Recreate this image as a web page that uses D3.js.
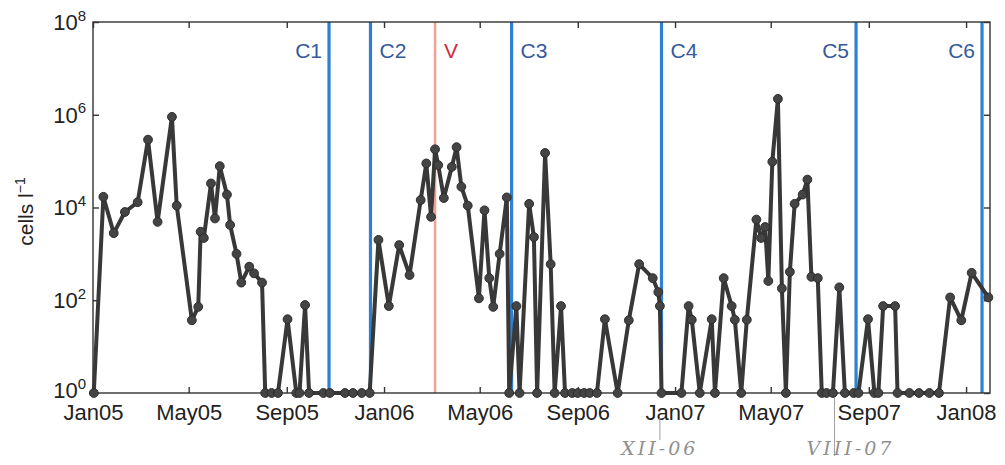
<!DOCTYPE html>
<html>
<head>
<meta charset="utf-8">
<script src="https://cdn.jsdelivr.net/npm/d3@7"></script>
<style>
  body { margin: 0; background: #fff; }
  svg { display: block; font-family: "Liberation Sans", Arial, Helvetica, sans-serif; }
</style>
</head>
<body>
<div class="container"></div>
<script>
const width = 1005,
    height = 465,
    margin = {top: 22, right: 15, bottom: 72, left: 93};

// sampling dates and cell counts (cells per litre)
const sampleDates = [
    '2005-01-02','2005-01-14','2005-01-27','2005-02-10','2005-02-26','2005-03-11','2005-03-23','2005-04-10','2005-04-16','2005-05-05',
    '2005-05-13','2005-05-16','2005-05-20','2005-05-29','2005-06-03','2005-06-09','2005-06-18','2005-06-22','2005-06-30','2005-07-06',
    '2005-07-16','2005-07-22','2005-08-01','2005-08-05','2005-08-13','2005-08-21','2005-09-02','2005-09-13','2005-09-17','2005-09-24',
    '2005-09-29','2005-10-17','2005-10-25','2005-11-13','2005-11-23','2005-12-04','2005-12-14','2005-12-25',
    '2006-01-07','2006-01-20','2006-02-02','2006-02-16','2006-02-23','2006-03-01','2006-03-06','2006-03-10','2006-03-17','2006-03-27',
    '2006-04-02','2006-04-08','2006-04-16','2006-04-30','2006-05-07','2006-05-13','2006-05-18','2006-05-26','2006-06-04','2006-06-07',
    '2006-06-16','2006-06-20','2006-07-02','2006-07-08','2006-07-12','2006-07-22','2006-07-29','2006-08-03','2006-08-11','2006-08-16',
    '2006-08-25','2006-09-01','2006-09-09','2006-09-16','2006-09-25','2006-10-05','2006-10-21','2006-11-04','2006-11-17','2006-12-04',
    '2006-12-11','2006-12-13','2006-12-15',
    '2007-01-09','2007-01-18','2007-01-22','2007-02-01','2007-02-16','2007-02-20','2007-03-03','2007-03-13','2007-03-17','2007-03-25',
    '2007-04-01','2007-04-13','2007-04-19','2007-04-24','2007-04-28','2007-05-03','2007-05-10','2007-05-15','2007-05-20','2007-05-25',
    '2007-05-31','2007-06-10','2007-06-16','2007-06-21','2007-06-29','2007-07-04','2007-07-10','2007-07-18','2007-07-26','2007-08-02',
    '2007-08-13','2007-08-19','2007-08-31','2007-09-08','2007-09-13','2007-09-19','2007-10-04','2007-10-07','2007-10-22','2007-11-03',
    '2007-11-16','2007-11-28','2007-12-12','2007-12-26',
    '2008-01-08','2008-01-29'
];

const cellCounts = [
    1, 17000, 2800, 8000, 13000, 290000, 4900, 900000, 11000, 37,
    72, 3000, 2200, 33000, 5800, 78000, 19000, 4200, 1000, 240,
    530, 380, 240, 1, 1, 1, 39, 1, 1, 79,
    1, 1, 1, 1, 1, 1, 1, 2000,
    75, 1550, 350, 14500, 89000, 6300, 180000, 82000, 16000, 75000,
    200000, 28000, 11000, 110, 8700, 300, 72, 1000, 16500, 1,
    75, 1, 12000, 2300, 1, 150000, 600, 1, 75, 1,
    1, 1, 1, 1, 1, 39, 1, 37, 600, 300,
    150, 75, 1,
    1, 75, 38, 1, 39, 1, 300, 75, 38, 1,
    38, 5500, 2200, 3800, 260, 97000, 2200000, 180, 1, 410,
    12000, 19000, 40000, 320, 300, 1, 1, 1, 190, 1,
    1, 1, 39, 1, 1, 75, 75, 1, 1, 1,
    1, 1, 115, 37,
    390, 115
];

// cruises (C) and the V event
const eventLabels = ['C1', 'C2', 'V', 'C3', 'C4', 'C5', 'C6'];
const eventDates = ['2005-10-24', '2005-12-15', '2006-03-06', '2006-06-10', '2006-12-15', '2007-08-16', '2008-01-21'];

// axis ticks
const xTickDates = ['2005-01-01','2005-05-01','2005-09-01','2006-01-01','2006-05-01','2006-09-01','2007-01-01','2007-05-01','2007-09-01','2008-01-01'];
const yTickExponents = [0, 2, 4, 6, 8];

// pencil notes on the scan
const noteLabels = ['XII-06', 'VIII-07'];
const noteDates = ['2006-12-13', '2007-07-20'];

const parse = d3.utcParse('%Y-%m-%d');
const data = sampleDates.map((d, i) => ({date: parse(d), value: cellCounts[i]}));

const svg = d3.select('.container')
    .append('svg')
    .attr('width', width)
    .attr('height', height);

const x = d3.scaleUtc()
    .domain([parse('2005-01-01'), parse('2008-01-31')])
    .range([margin.left, width - margin.right]);

const y = d3.scaleLog()
    .domain([1, 1e8])
    .range([height - margin.bottom, margin.top]);

const axisColor = '#333';

// event lines
const events = svg.append('g');
events.selectAll('line')
    .data(eventDates)
    .enter()
    .append('line')
    .attr('x1', d => x(parse(d)))
    .attr('x2', d => x(parse(d)))
    .attr('y1', y(1e8))
    .attr('y2', y(1))
    .attr('stroke', (d, i) => eventLabels[i] === 'V' ? '#f3a291' : '#2e80d2')
    .attr('stroke-width', (d, i) => eventLabels[i] === 'V' ? 2.5 : 3.2);

const labelOnLeft = ['C1', 'C5', 'C6'];
events.selectAll('text')
    .data(eventDates)
    .enter()
    .append('text')
    .attr('x', (d, i) => x(parse(d)) + (labelOnLeft.includes(eventLabels[i]) ? -7 : 9))
    .attr('y', 58)
    .attr('text-anchor', (d, i) => labelOnLeft.includes(eventLabels[i]) ? 'end' : 'start')
    .attr('font-size', 21)
    .attr('fill', (d, i) => eventLabels[i] === 'V' ? '#d4283c' : '#35589c')
    .text((d, i) => eventLabels[i]);

// frame
svg.append('rect')
    .attr('x', margin.left)
    .attr('y', margin.top)
    .attr('width', width - margin.left - margin.right)
    .attr('height', height - margin.top - margin.bottom)
    .attr('fill', 'none')
    .attr('stroke', axisColor)
    .attr('stroke-width', 1.4);

const xTicks = xTickDates.map(parse);
const yTicks = yTickExponents.map(e => Math.pow(10, e));

const xAxis = svg.append('g')
    .attr('transform', `translate(0,${y(1)})`)
    .call(d3.axisBottom(x)
        .tickValues(xTicks)
        .tickFormat(d3.utcFormat('%b%y'))
        .tickSizeInner(-6)
        .tickSizeOuter(0)
        .tickPadding(11));
xAxis.select('.domain').remove();
xAxis.selectAll('line').attr('stroke', axisColor).attr('stroke-width', 1.4);
xAxis.selectAll('text')
    .attr('font-size', 22)
    .attr('font-family', '"Liberation Sans", Arial, sans-serif')
    .attr('fill', '#222');

const xTop = svg.append('g')
    .attr('transform', `translate(0,${y(1e8)})`)
    .call(d3.axisTop(x).tickValues(xTicks).tickFormat('').tickSizeInner(-6).tickSizeOuter(0));
xTop.select('.domain').remove();
xTop.selectAll('line').attr('stroke', axisColor).attr('stroke-width', 1.4);

const yAxis = svg.append('g')
    .attr('transform', `translate(${margin.left},0)`)
    .call(d3.axisLeft(y).tickValues(yTicks).tickFormat('').tickSizeInner(-6).tickSizeOuter(0));
yAxis.select('.domain').remove();
yAxis.selectAll('line').attr('stroke', axisColor).attr('stroke-width', 1.4);

const yRight = svg.append('g')
    .attr('transform', `translate(${width - margin.right},0)`)
    .call(d3.axisRight(y).tickValues(yTicks).tickFormat('').tickSizeInner(-6).tickSizeOuter(0));
yRight.select('.domain').remove();
yRight.selectAll('line').attr('stroke', axisColor).attr('stroke-width', 1.4);

// y tick labels as 10 with superscript exponent
const yLabels = svg.append('g')
    .attr('font-size', 22)
    .attr('fill', '#222');
yLabels.selectAll('text')
    .data(yTickExponents)
    .enter()
    .append('text')
    .attr('x', margin.left - 7)
    .attr('y', d => y(Math.pow(10, d)) - (d === 0 ? 3 : 0))
    .attr('text-anchor', 'end')
    .each(function(d) {
        const t = d3.select(this);
        t.append('tspan').attr('dy', '0.36em').text('10');
        t.append('tspan').attr('dy', '-0.62em').attr('font-size', 15).text(d);
    });

// y axis title
const title = svg.append('text')
    .attr('transform', `translate(33,${(y(1) + y(1e8)) / 2 + 4}) rotate(-90)`)
    .attr('text-anchor', 'middle')
    .attr('font-size', 21)
    .attr('fill', '#222');
title.append('tspan').text('cells l');
title.append('tspan').attr('dy', '-0.55em').attr('font-size', 14).text('\u22121');

// data line and markers
const line = d3.line()
    .x(d => x(d.date))
    .y(d => y(d.value));

svg.append('path')
    .datum(data)
    .attr('d', line)
    .attr('fill', 'none')
    .attr('stroke', '#383838')
    .attr('stroke-width', 4)
    .attr('stroke-linejoin', 'round');

svg.append('g')
    .selectAll('circle')
    .data(data)
    .enter()
    .append('circle')
    .attr('cx', d => x(d.date))
    .attr('cy', d => y(d.value))
    .attr('r', 4.4)
    .attr('fill', '#444')
    .attr('stroke', '#2c2c2c')
    .attr('stroke-width', 1);

// handwritten pencil marks below the axis
const notes = svg.append('g');
notes.selectAll('line')
    .data(noteDates)
    .enter()
    .append('line')
    .attr('x1', d => x(parse(d)))
    .attr('x2', d => x(parse(d)))
    .attr('y1', (d, i) => i === 0 ? 418 : 398)
    .attr('y2', (d, i) => i === 0 ? 440 : 456)
    .attr('stroke', '#a0a0a0')
    .attr('stroke-width', 1);
notes.selectAll('text')
    .data(noteDates)
    .enter()
    .append('text')
    .attr('x', d => x(parse(d)))
    .attr('dx', (d, i) => i === 0 ? 0 : 16)
    .attr('y', 455)
    .attr('text-anchor', 'middle')
    .attr('font-family', '"DejaVu Serif", serif')
    .attr('font-style', 'italic')
    .attr('font-size', 19)
    .attr('letter-spacing', 3)
    .attr('fill', '#909090')
    .text((d, i) => noteLabels[i]);
</script>
</body>
</html>
